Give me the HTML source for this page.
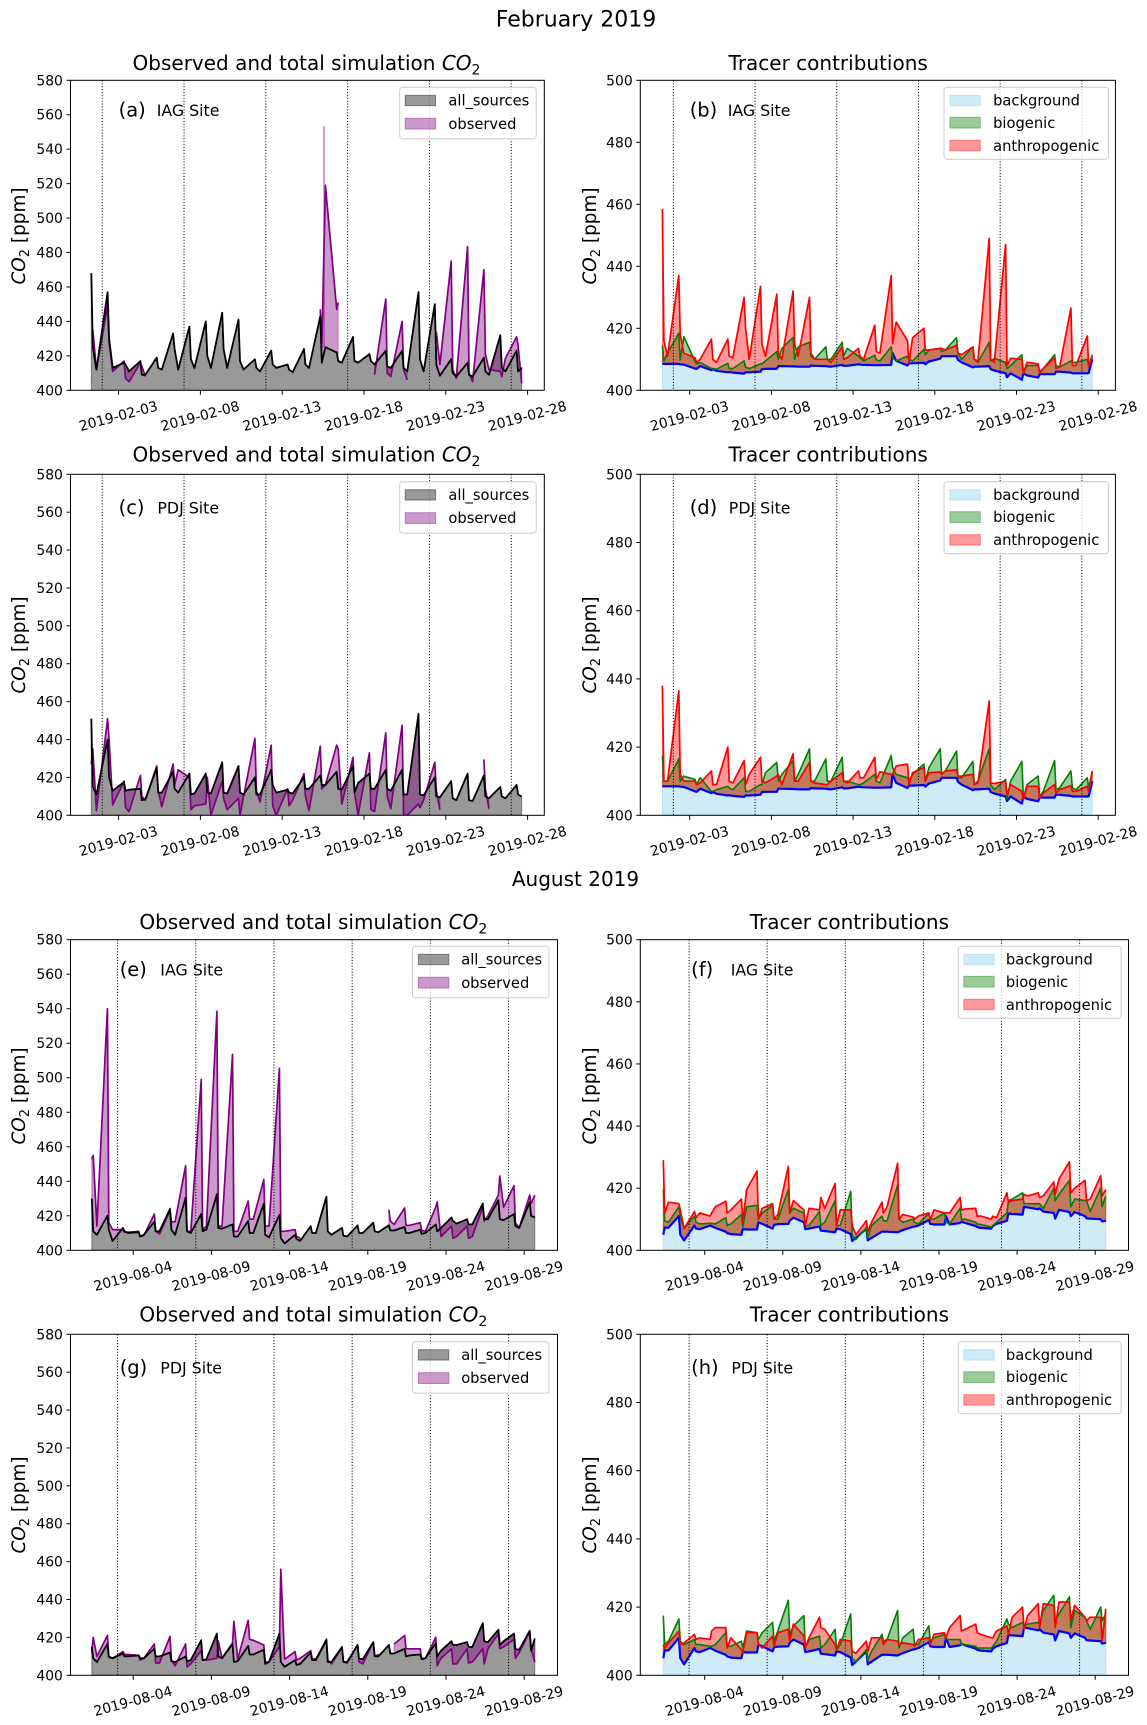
<!DOCTYPE html>
<html lang="en">
<head>
<meta charset="utf-8">
<title>CO2 observed and simulated, February and August 2019</title>
<style>
html,body{margin:0;padding:0;background:#fff;}
svg{display:block;font-family:"DejaVu Sans","Liberation Sans",sans-serif;fill:#000;}
.title{font-size:20px;text-anchor:middle;}
.sup{font-size:22px;text-anchor:middle;}
.ylab{font-size:18.4px;text-anchor:middle;}
.letter{font-size:19.5px;}
.site{font-size:15.8px;}
.lg{font-size:14.7px;}
.box{fill:#fff;fill-opacity:.8;stroke:#ccc;stroke-width:1;}
.ps{fill:#000;fill-opacity:.4;stroke:#000;stroke-opacity:.4;}
.po{fill:#800080;fill-opacity:.4;stroke:#800080;stroke-opacity:.4;}
.pb{fill:#87ceeb;fill-opacity:.4;stroke:#87ceeb;stroke-opacity:.4;}
.pg{fill:#008000;fill-opacity:.4;stroke:#008000;stroke-opacity:.4;}
.pr{fill:#f00;fill-opacity:.4;stroke:#f00;stroke-opacity:.4;}
</style>
</head>
<body>
<svg id="figure" xmlns="http://www.w3.org/2000/svg" width="1147" height="1725" viewBox="0 0 1147 1725">
<rect x="0" y="0" width="1147" height="1725" fill="#fff"/>
<text class="sup" x="576" y="26.5">February 2019</text>
<text class="sup" x="575.5" y="886" style="font-size:20px">August 2019</text>

<g id="panel-a"></g>
<g>
<text class="title" x="306.5" y="70">Observed and total simulation <tspan font-style="italic">CO</tspan><tspan dy="4.5" font-size="14">2</tspan></text>
<text class="ylab" transform="translate(25,236) rotate(-90)"><tspan font-style="italic">CO</tspan><tspan dy="4" font-size="13">2</tspan><tspan dy="-4"> [ppm]</tspan></text>
<text class="letter" x="118.6" y="116.5">(a)</text>
<text class="site" x="156.7" y="116">IAG Site</text>
<g transform="translate(399.7,87.3)">
<rect class="box" width="136.5" height="51.4" rx="3"/>
<rect class="ps" x="5.5" y="8" width="30.4" height="10.4"/>
<text class="lg" x="48.7" y="18.3">all_sources</text>
<rect class="po" x="5.5" y="31" width="30.4" height="10.8"/>
<text class="lg" x="48.7" y="41.5">observed</text>
</g>
</g>

<g id="panel-b"></g>
<g>
<text class="title" x="828.2" y="70">Tracer contributions</text>
<text class="ylab" transform="translate(596,236) rotate(-90)"><tspan font-style="italic">CO</tspan><tspan dy="4" font-size="13">2</tspan><tspan dy="-4"> [ppm]</tspan></text>
<text class="letter" x="689.7" y="116.5">(b)</text>
<text class="site" x="727.7" y="116">IAG Site</text>
<g transform="translate(944,87.3)">
<rect class="box" width="164.4" height="72" rx="3"/>
<rect class="pb" x="5.9" y="8" width="30.4" height="10.4"/>
<text class="lg" x="49.1" y="18.3">background</text>
<rect class="pg" x="5.9" y="30" width="30.4" height="10.8"/>
<text class="lg" x="49.1" y="40.5">biogenic</text>
<rect class="pr" x="5.9" y="53" width="30.4" height="10.4"/>
<text class="lg" x="49.1" y="63.5">anthropogenic</text>
</g>
</g>

<g id="panel-c"></g>
<g>
<text class="title" x="306.5" y="461.7">Observed and total simulation <tspan font-style="italic">CO</tspan><tspan dy="4.5" font-size="14">2</tspan></text>
<text class="ylab" transform="translate(25,645) rotate(-90)"><tspan font-style="italic">CO</tspan><tspan dy="4" font-size="13">2</tspan><tspan dy="-4"> [ppm]</tspan></text>
<text class="letter" x="118.6" y="514">(c)</text>
<text class="site" x="157.4" y="513.5">PDJ Site</text>
<g transform="translate(399.7,481.7)">
<rect class="box" width="136.5" height="51.4" rx="3"/>
<rect class="ps" x="5.5" y="8" width="30.4" height="10.4"/>
<text class="lg" x="48.7" y="18.3">all_sources</text>
<rect class="po" x="5.5" y="31" width="30.4" height="10.8"/>
<text class="lg" x="48.7" y="41.5">observed</text>
</g>
</g>

<g id="panel-d"></g>
<g>
<text class="title" x="828.2" y="461.7">Tracer contributions</text>
<text class="ylab" transform="translate(596,645) rotate(-90)"><tspan font-style="italic">CO</tspan><tspan dy="4" font-size="13">2</tspan><tspan dy="-4"> [ppm]</tspan></text>
<text class="letter" x="689.7" y="514">(d)</text>
<text class="site" x="728.8" y="513.5">PDJ Site</text>
<g transform="translate(944,481.7)">
<rect class="box" width="164.4" height="72" rx="3"/>
<rect class="pb" x="5.9" y="8" width="30.4" height="10.4"/>
<text class="lg" x="49.1" y="18.3">background</text>
<rect class="pg" x="5.9" y="30" width="30.4" height="10.8"/>
<text class="lg" x="49.1" y="40.5">biogenic</text>
<rect class="pr" x="5.9" y="53" width="30.4" height="10.4"/>
<text class="lg" x="49.1" y="63.5">anthropogenic</text>
</g>
</g>

<g id="panel-e"></g>
<g>
<text class="title" x="313.3" y="929">Observed and total simulation <tspan font-style="italic">CO</tspan><tspan dy="4.5" font-size="14">2</tspan></text>
<text class="ylab" transform="translate(25,1096) rotate(-90)"><tspan font-style="italic">CO</tspan><tspan dy="4" font-size="13">2</tspan><tspan dy="-4"> [ppm]</tspan></text>
<text class="letter" x="119.7" y="976">(e)</text>
<text class="site" x="160.3" y="975.5">IAG Site</text>
<g transform="translate(412.5,946.3)">
<rect class="box" width="136.5" height="51.4" rx="3"/>
<rect class="ps" x="5.9" y="8" width="30.4" height="10.4"/>
<text class="lg" x="48.7" y="18.3">all_sources</text>
<rect class="po" x="5.9" y="31" width="30.4" height="10.8"/>
<text class="lg" x="48.7" y="41.5">observed</text>
</g>
</g>

<g id="panel-f"></g>
<g>
<text class="title" x="849.4" y="929">Tracer contributions</text>
<text class="ylab" transform="translate(596,1096) rotate(-90)"><tspan font-style="italic">CO</tspan><tspan dy="4" font-size="13">2</tspan><tspan dy="-4"> [ppm]</tspan></text>
<text class="letter" x="691.1" y="976">(f)</text>
<text class="site" x="730.7" y="975.5">IAG Site</text>
<g transform="translate(958.3,946.3)">
<rect class="box" width="162.9" height="72" rx="3"/>
<rect class="pb" x="5.5" y="8" width="30.4" height="10.4"/>
<text class="lg" x="47.6" y="18.3">background</text>
<rect class="pg" x="5.5" y="30" width="30.4" height="10.8"/>
<text class="lg" x="47.6" y="40.5">biogenic</text>
<rect class="pr" x="5.5" y="53" width="30.4" height="10.4"/>
<text class="lg" x="47.6" y="63.5">anthropogenic</text>
</g>
</g>

<g id="panel-g"></g>
<g>
<text class="title" x="313.3" y="1321.7">Observed and total simulation <tspan font-style="italic">CO</tspan><tspan dy="4.5" font-size="14">2</tspan></text>
<text class="ylab" transform="translate(25,1505) rotate(-90)"><tspan font-style="italic">CO</tspan><tspan dy="4" font-size="13">2</tspan><tspan dy="-4"> [ppm]</tspan></text>
<text class="letter" x="119.7" y="1374">(g)</text>
<text class="site" x="160.3" y="1373.5">PDJ Site</text>
<g transform="translate(412.5,1341.7)">
<rect class="box" width="136.5" height="51.4" rx="3"/>
<rect class="ps" x="5.9" y="8" width="30.4" height="10.4"/>
<text class="lg" x="48.7" y="18.3">all_sources</text>
<rect class="po" x="5.9" y="31" width="30.4" height="10.8"/>
<text class="lg" x="48.7" y="41.5">observed</text>
</g>
</g>

<g id="panel-h"></g>
<g>
<text class="title" x="849.4" y="1321.7">Tracer contributions</text>
<text class="ylab" transform="translate(596,1505) rotate(-90)"><tspan font-style="italic">CO</tspan><tspan dy="4" font-size="13">2</tspan><tspan dy="-4"> [ppm]</tspan></text>
<text class="letter" x="691.1" y="1374">(h)</text>
<text class="site" x="731.4" y="1373.5">PDJ Site</text>
<g transform="translate(958.3,1341.7)">
<rect class="box" width="162.9" height="72" rx="3"/>
<rect class="pb" x="5.5" y="8" width="30.4" height="10.4"/>
<text class="lg" x="47.6" y="18.3">background</text>
<rect class="pg" x="5.5" y="30" width="30.4" height="10.8"/>
<text class="lg" x="47.6" y="40.5">biogenic</text>
<rect class="pr" x="5.5" y="53" width="30.4" height="10.4"/>
<text class="lg" x="47.6" y="63.5">anthropogenic</text>
</g>
</g>
</svg>

<script>
// ---------- categories and tick labels ----------
const febDays = [1,2,3,4,5,6,7,8,9,10,11,12,13,14,15,16,17,18,19,20,21,22,23,24,25,26,27];
const febHours = [0.33,0.42,0.64];
const augDays = [1,2,3,4,5,6,7,8,9,10,11,12,13,14,15,16,17,18,19,20,21,22,23,24,25,26,27,28,29];
const augHours = [0.35,0.44,0.68];
const febTickDays = [3,8,13,18,23,28];
const febTickLabels = ["2019-02-03","2019-02-08","2019-02-13","2019-02-18","2019-02-23","2019-02-28"];
const febMarkerDays = [2,7,12,17,22,27];
const augTickDays = [4,9,14,19,24,29];
const augTickLabels = ["2019-08-04","2019-08-09","2019-08-14","2019-08-19","2019-08-24","2019-08-29"];
const augMarkerDays = [3,8,13,18,23,28];
const observedTicks = [400,420,440,460,480,500,520,540,560,580];
const tracerTicks = [400,420,440,460,480,500];

// ---------- panel (a) IAG February ----------
const aSim = [468,425,412, 457,430,413, 416,415,411, 417,409,409, 419,413,412, 433,424,412, 437,418,413, 440,420,413, 445,424,413,
 441,417,412, 418,413,411, 423,415,413, 415,412,410.5, 424,415,413, 443,416,425, 422,417,416, 431,417,416, 421,417,415,
 423,414,413, 423,413,411, 457,418,411, 450,415,408.5, 418,410,408, 416,409,408, 419,411,409, 432,413,411, 423,411,413];
const aObs = [null,435,412, 449,428,411, 417,407,405, 416,414,408, null,null,null, null,null,null, null,null,null, null,null,null, null,null,null,
 null,null,null, null,null,null, null,null,null, null,null,null, null,null,null, 447,425,519, 447,451,null, null,null,null, null,null,409,
 453,410,408, 440,412,406, null,null,null, null,434,415, 475,412,407, 483.5,410,405, 470,421,412, 411,408,418.5, 431,426,404];
const aSpikeDay = [15.56];
const aSpikeTop = [553.5];
const aSpikeBase = [425];

// ---------- panel (b) IAG February tracers ----------
const febBackground = [408.5,408.5,408.5, 408.5,408.4,408.3, 407,406.9,407.8, 406.5,406.8,406.3, 405.8,405.9,405.7, 405.4,405.8,405.8, 406,406.8,406.9, 406.9,407.8,407.8, 407.7,407.7,407.6,
 407.6,408,407.9, 407.8,407.7,407.6, 408.2,407.9,407.9, 408.4,408.3,408.2, 408.1,408.1,408.1, 408.2,412,409.5, 408,408.7,408.7, 408.9,408.4,409.3, 410.2,411,411,
 411,409.8,409, 407.4,407.6,407.6, 407.8,406.8,406.4, 405.5,404.2,405.5, 403.4,405.5,404.8, 404.1,405.2,405.2, 405.2,406,406, 405.7,405.5,405.5, 405.5,405.6,410];
const bBio = [414.5,409.5,412, 418.4,409.8,417.3, 409.3,408.5,409, 407,407,406.8, 408.7,407,407, 409.5,407.5,407, 408.5,408.5,409.5, 412.5,410,413.5, 417,410,414,
 415.5,411,410, 414,410,410, 415.5,411,413.5, 411,410.5,409.5, 411.3,409.8,409.5, 414,410.5,409.5, 411,410,409.5, 413.2,411.5,413, 413.5,412.5,413,
 417,412,410, 414,410,409, 415.5,409.5,410.3, 409,407,408, 411.5,405.5,408, 408,406,407, 411.5,408,407.5, 409.5,409,409, 410,408,411.5];
const bAnth = [458.5,416,411, 437,418,412, 410.5,409,410, 416.5,410,409, 416.5,411,410.5, 430,420,410, 433.5,415,411, 431,412,410, 432,415,411,
 430,412,410, 410,410,409, 414,410,410.5, 413.5,411,410, 421,412.5,412, 437,415,422, 416,409,417, 420,413,413, 413.5,413.5,413,
 414.5,412,411.5, 414,410,409.5, 449,410,409, 447,408,410.3, 410,405.5,409, 408.5,405.5,407, 410.5,407,407.5, 426.5,408,408, 417.5,407.5,411];

// ---------- panel (c) PDJ February ----------
const cSim = [451,415,411, 440,420,413, 417.5,413,413.5, 414,408,408.5, 425,412,412, 423,414,412, 422,411,411.5, 422,412,411.5, 428,412,411.5,
 426,412,411, 420,411,411, 424,416,412, 413.5,412,411.5, 420,414,414, 421,416,416, 423,414,413.5, 426,412,417, 422,414,414,
 424,414,413, 424,411,411, 453.5,411,410.5, 420,410,409.5, 418,409,408, 422,408,407.5, 421,410,409, 415,410,409, 416,411,410];
const cObs = [427,435,402.5, 451,440,405.5, 418,404,402, 421,410,408, 426,413,404.5, 427,416,424, 420,403,405, 406,420,400, 418,409,403,
 409,400,410, 440.6,413,407, 437,405,400, 414,405,408, 422,410,402.5, 436.5,414,416, 437,435,406, 430.5,412,400, 433,403,402,
 443.5,410,403.5, 447.5,400,400, 406,404,408, 428,413,403, null,null,null, null,null,null, 429.5,414,403.5, null,null,null, null,null,null];

// ---------- panel (d) PDJ February tracers ----------
const dBio = [417.5,410,410, 416.5,410,411.5, 410.5,409,411, 407,407,407.5, 408.5,408,407.5, 411,407,407, 409,409,412.5, 415.5,410,412, 416,410,412,
 419.5,410,410, 416.5,410,410, 417,410,410, 409,409,409.5, 412,410,409.5, 417.5,414,412, 411,410,412, 415,410,414, 419.5,412,413,
 418.8,411,411, 415.8,409,410, 419.5,409,407.5, 410.5,405,410, 415.8,405,409, 411.5,405.5,407, 416,407.5,408, 413,408,407.5, 411,408,413];
const dAnth = [438,410,410, 436.5,412,410, 410,409,409.5, 413,409,409, 420,410,409.5, 416,409,412, 417,410,409.5, 411.5,412,409, 418,410,410,
 415.5,410,409.5, 409,409,410, 412.5,410,409.5, 413,411,411, 417,410.5,412.8, 412,412,414.5, 415,409,412.5, 414,410,412.5, 412.7,412,413,
 413.3,411.5,411.5, 412,409,409.5, 433.5,409.5,409.3, 410,406,409, 407,404.5,408.5, 408.5,405,406.5, 409,406.5,407.5, 408.7,407,407, 408.5,407,413];

// ---------- panel (e) IAG August ----------
const eSim = [430,411,409, 420,412,405.4, 413,411,410, 410.5,408,409, 416.5,411,411, 424,412,409, 430.5,411,410, 421,411,412, 432.5,413,412.5,
 415,408,408, 417,410,410, 427,409,407.5, 420.5,407,404, 409,406.5,405.5, 414,410,410, 431,411,409, 413,408.5,408, 414.5,410,410,
 416,411,410.5, 414.5,411.5,411.5, 413.5,410,410, 412,409.5,410, 415,411,413, 419,417,415.5, 418,415,415, 427,418,418, 429,418,417.5, 421,414,413, 428,420,419];
const eObs = [453,455,414, 540,416,412, 412,410.5,410.5, 411,408,408.5, 421,411,409.5, 423,416.5,416.5, 449,411,411, 499,412,414, 538.5,414,414,
 513.5,411,411, 428.5,418,418, 441,414,414, 505.5,411,411, 412,408,407, null,null,null, null,null,null, null,null,null, null,null,null,
 null,null,null, 423.5,417,415, 424.5,414.5,414.5, 416,411.5,411, 425,428,408, 414,407,408, 414,407,408, 425,417,420, 432,443,425, 437.5,416,413, 432,427,432];

// ---------- panel (f) IAG August tracers ----------
const augBackground = [405,407.3,407.3, 411,405,403.2, 408,407,406.8, 408,407.8,407.2, 406,405.5,405.2, 405,406.8,406.7, 406.7,409,408.5, 407,408.2,408.4, 408.5,409.5,410.5,
 409,406.8,407, 407.7,406.3,406.2, 405.8,407,406.8, 405.2,403,404, 407,403.2,404, 406,406,406, 405.8,406,406.5, 407.6,407.6,408, 409.7,408.5,408.3,
 408.3,411,408.3, 408.8,409.2,408.8, 407.8,407.5,407.2, 407,407.8,408.5, 409.5,411.8,411.7, 411.5,414,413.8, 413.2,413.5,412.5, 412,410.2,413, 412.3,411,412.3, 411,410.3,410.2, 410,409.3,409.5];
const fBio = [419.5,409.5,409, 414,411,407, 411,409,408.5, 408.7,408.7,408.5, 410.5,408,408.5, 411.5,407.5,414, 414.5,410,412, 414.5,410,410, 419.5,412,413.5,
 412,408,408, 412.5,408,409, 416,408,408, 419,405,403.5, 407.3,404,408, 411,409.5,409.5, 421,410,409, 410,409,408.5, 412,410,410,
 412,409,408.5, 413.5,410,410, 409,408.5,408.3, 407.5,408,409, 412,416,416.5, 418.5,415,415, 415,415,413.5, 420,416,418, 422.5,414,416.5, 416,416,412.5, 420,414,417.5];
const fAnth = [429,412,415.5, 415,413,407, 412.5,410.5,412, 411,412,414, 415.8,412,413, 416.5,409,419.5, 425.5,410,413.5, 415,410,411.5, 427,412,416,
 413,408,413.5, 413,417,413.5, 421.5,408,413, 413,408,405, 409.5,406,409, 415.5,412,414, 428,410,411.5, 410.7,410,411, 412,409.7,413,
 412,412,412, 417,413,413.3, 413.5,411,411, 410,411,410.5, 418.5,415.5,416, 416.5,418,417.5, 418.5,417,417.5, 422,418,423, 428.5,418.5,420, 422.5,416,416.5, 424,417.5,419.5];

// ---------- panel (g) PDJ August ----------
const gSim = [415,409,407, 416.5,410,409, 411.5,410,410, 410.5,409,409, 414,410,410, 412,407.5,407, 410,407.5,408, 418.5,408,408.5, 422,410,409,
 416.5,407,407.5, 415.5,411,411, 413.5,406,407, 422,407,404.5, 408,405.5,406, 412,408,408, 418.5,407,407, 415,407,407, 416,409,408.5,
 417.5,410,410, 416,411.5,411.5, 414,410,410.5, 411,408.5,409, 417,410,413, 418,416,416, 417.5,415,415, 427.5,418,417.5, 424,416,418, 422,414,413.5, 423.5,413,419.5];
const gObs = [412,420,410, 421,409.5,409, 412.5,411,411, 410.5,408,409, 416.5,406.5,406.5, 420.5,408,405, 416.5,404.5,406, 413,408,408, 409,418,409,
 417,428.5,408.5, 429,419,418.5, 416,407,407, 415,456,408.5, 412.5,408,409, 413,409,408.5, 419,408,406, 414.5,407,406.5, 416,407,406,
 417.5,410,411, null,null,416.5, 421,414,414, 414,409,409, 420,405,409, 414,406,406, 414,406.5,407, 414,406,414, 422,414,415, 419,409,412, 423,414,407];

// ---------- panel (h) PDJ August tracers ----------
const hBio = [417.5,409,410, 416.5,410,409, 410.5,409,409, 408.5,408.5,409, 412.5,408.5,408.5, 410,408,413, 412.5,410.5,412.5, 415.5,410,413, 422,412,414.5,
 417.5,408,410.5, 411.5,408,409, 413.5,407.5,409, 418,405,404, 407.5,404.5,407, 412,410,410.5, 419,408,411, 413.5,409,409, 414.5,410,411,
 412,410.5,410.5, 410.5,409,409, 408.5,408,408, 408,408.5,410, 416.5,415,414, 415.5,414.5,415, 415.5,415,419, 423.5,416,418, 423,414,419, 417,416,413.5, 420,416,418];
const hAnth = [409,408,409.5, 413,409,409.5, 412,410.5,411, 410.5,413,414, 414,408,411, 407.5,406.5,412.5, 412.5,409,408, 411.5,408.5,412.5, 413.5,410,415,
 411.5,408,411, 417,414,413.5, 409,407.5,410.5, 410,407,406.5, 410,407,411, 411,409,410.5, 410,409,409.5, 409,408.5,410.5, 411,409,412,
 412.5,411,414, 417.5,413,413.5, 415,412.5,412, 411,411,413, 414.5,412,417, 420,413.5,417.5, 421,414,421, 420.5,414,421.5, 421.5,416,420.5, 417,416,417, 417,410,419.5];

// ---------- drawing ----------
const SVG_NS = "http://www.w3.org/2000/svg";

function makeTimes(days, hours) {
  const out = [];
  days.forEach(function (d) { hours.forEach(function (h) { out.push(d + h); }); });
  return out;
}
const febTimes = makeTimes(febDays, febHours);
const augTimes = makeTimes(augDays, augHours);

function shape(parent, tag, attrs) {
  const el = document.createElementNS(SVG_NS, tag);
  Object.keys(attrs).forEach(function (k) { el.setAttribute(k, attrs[k]); });
  parent.appendChild(el);
  return el;
}

function xAxisFn(p) {
  return function (day) { return p.tickPx + (day - p.tickDays[0]) * p.dayPx; };
}
function yAxisFn(p) {
  return function (v) { return p.bottom - (v - p.yMin) / (p.yMax - p.yMin) * (p.bottom - p.top); };
}

function lineSegments(times, vals, sx, sy) {
  const segs = [];
  let cur = [];
  vals.forEach(function (v, i) {
    if (v === null) { if (cur.length) { segs.push(cur); } cur = []; }
    else { cur.push(sx(times[i]).toFixed(1) + "," + sy(v).toFixed(1)); }
  });
  if (cur.length) { segs.push(cur); }
  return segs;
}

function bandSegments(times, upper, lower, sx, sy) {
  const segs = [];
  let top = [], bot = [];
  function flush() {
    if (top.length) { segs.push(top.concat(bot.reverse())); }
    top = []; bot = [];
  }
  upper.forEach(function (v, i) {
    const w = lower === null ? null : lower[i];
    if (v === null || (lower !== null && w === null)) { flush(); return; }
    top.push(sx(times[i]).toFixed(1) + "," + sy(v).toFixed(1));
    bot.push(sx(times[i]).toFixed(1) + "," + (lower === null ? sy(400) : sy(w)).toFixed(1));
  });
  flush();
  return segs;
}

function drawBand(g, times, upper, lower, color, sx, sy) {
  bandSegments(times, upper, lower, sx, sy).forEach(function (pts) {
    const poly = shape(g, "polygon", {points: pts.join(" "), fill: color, "fill-opacity": 0.4, stroke: color, "stroke-opacity": 0.4, "stroke-width": 1});
    
    
  });
}

function drawLine(g, times, vals, color, width, sx, sy) {
  lineSegments(times, vals, sx, sy).forEach(function (pts) {
    const line = shape(g, "polyline", {points: pts.join(" "), fill: "none", stroke: color, "stroke-width": width, "stroke-linejoin": "round"});
    
    
  });
}

const panels = [
  {id:"a", kind:"obs", times:febTimes, sim:aSim, obs:aObs, spikeDay:aSpikeDay, spikeTop:aSpikeTop, spikeBase:aSpikeBase, left:70.5, right:544.3, top:80.3, bottom:390.3, tickPx:118.6, dayPx:16.36, tickDays:febTickDays, tickLabels:febTickLabels, markers:febMarkerDays},
  {id:"b", kind:"tracer", times:febTimes, bg:febBackground, bio:bBio, anth:bAnth, left:640.3, right:1115.4, top:80.3, bottom:390.3, tickPx:689.7, dayPx:16.34, tickDays:febTickDays, tickLabels:febTickLabels, markers:febMarkerDays},
  {id:"c", kind:"obs", times:febTimes, sim:cSim, obs:cObs, left:70.5, right:544.3, top:474.3, bottom:815.3, tickPx:118.6, dayPx:16.36, tickDays:febTickDays, tickLabels:febTickLabels, markers:febMarkerDays},
  {id:"d", kind:"tracer", times:febTimes, bg:febBackground, bio:dBio, anth:dAnth, left:640.3, right:1115.4, top:474.3, bottom:815.3, tickPx:689.7, dayPx:16.34, tickDays:febTickDays, tickLabels:febTickLabels, markers:febMarkerDays},
  {id:"e", kind:"obs", times:augTimes, sim:eSim, obs:eObs, left:70.5, right:557.5, top:939.7, bottom:1250.3, tickPx:133.2, dayPx:15.64, tickDays:augTickDays, tickLabels:augTickLabels, markers:augMarkerDays},
  {id:"f", kind:"tracer", times:augTimes, bg:augBackground, bio:fBio, anth:fAnth, left:640.3, right:1128.5, top:939.7, bottom:1250.3, tickPx:704.7, dayPx:15.62, tickDays:augTickDays, tickLabels:augTickLabels, markers:augMarkerDays},
  {id:"g", kind:"obs", times:augTimes, sim:gSim, obs:gObs, left:70.5, right:557.5, top:1334.3, bottom:1675.3, tickPx:133.2, dayPx:15.64, tickDays:augTickDays, tickLabels:augTickLabels, markers:augMarkerDays},
  {id:"h", kind:"tracer", times:augTimes, bg:augBackground, bio:hBio, anth:hAnth, left:640.3, right:1128.5, top:1334.3, bottom:1675.3, tickPx:704.7, dayPx:15.62, tickDays:augTickDays, tickLabels:augTickLabels, markers:augMarkerDays}
];

const defs = shape(document.getElementById("figure"), "defs", {});

panels.forEach(function (p) {
  const root = document.getElementById("panel-" + p.id);
  p.yMin = 400;
  p.yMax = p.kind === "obs" ? 580 : 500;
  const sx = xAxisFn(p), sy = yAxisFn(p);

  const clip = shape(defs, "clipPath", {id: "clip-" + p.id});
  shape(clip, "rect", {x: p.left, y: p.top, width: p.right - p.left, height: p.bottom - p.top});

  const marks = shape(root, "g", {"clip-path": "url(#clip-" + p.id + ")"});
  
  

  if (p.kind === "obs") {
    drawBand(marks, p.times, p.sim, null, "#000", sx, sy);
    drawBand(marks, p.times, p.obs, p.sim, "#800080", sx, sy);
    if (p.spikeDay) {
      p.spikeDay.forEach(function (d, i) {
        const spike = shape(marks, "line", {x1: sx(d), x2: sx(d), y1: sy(p.spikeBase[i]), y2: sy(p.spikeTop[i]), stroke: "#800080", "stroke-opacity": 0.45, "stroke-width": 1.6});
        
        
      });
    }
    drawLine(marks, p.times, p.obs, "#800080", 1.7, sx, sy);
    drawLine(marks, p.times, p.sim, "#000", 1.8, sx, sy);
  } else {
    drawBand(marks, p.times, p.bg, null, "#87ceeb", sx, sy);
    drawBand(marks, p.times, p.bio, p.bg, "#008000", sx, sy);
    drawBand(marks, p.times, p.anth, p.bg, "#ff0000", sx, sy);
    drawLine(marks, p.times, p.bg, "#0000ff", 2.2, sx, sy);
    drawLine(marks, p.times, p.bio, "#008000", 1.6, sx, sy);
    drawLine(marks, p.times, p.anth, "#ff0000", 1.7, sx, sy);
  }

  p.markers.forEach(function (d) {
    const v = shape(marks, "line", {x1: sx(d), x2: sx(d), y1: p.top, y2: p.bottom, stroke: "#000", "stroke-width": 1, "stroke-dasharray": "1.1,1.8"});
    
    
  });

  const frame = shape(root, "rect", {x: p.left, y: p.top, width: p.right - p.left, height: p.bottom - p.top, fill: "none", stroke: "#000", "stroke-width": 1});
  
  

  const yTicks = p.kind === "obs" ? observedTicks : tracerTicks;
  yTicks.forEach(function (v) {
    const tick = shape(root, "line", {x1: p.left - 4, x2: p.left, y1: sy(v), y2: sy(v), stroke: "#000", "stroke-width": 1});
    
    
    const label = shape(root, "text", {x: p.left - 7.6, y: sy(v) + 5, "text-anchor": "end", "font-size": 13.9});
    
    
    label.textContent = String(v);
  });

  p.tickDays.forEach(function (d, i) {
    const tick = shape(root, "line", {x1: sx(d), x2: sx(d), y1: p.bottom, y2: p.bottom + 4.5, stroke: "#000", "stroke-width": 1});
    
    
    const cx = sx(d) - 0.3, cy = p.bottom + 25.5;
    const label = shape(root, "text", {x: cx, y: cy + 5, "text-anchor": "middle", "font-size": 13.9, transform: "rotate(-15 " + cx + " " + cy + ")"});
    
    
    label.textContent = p.tickLabels[i];
  });
});
</script>
</body>
</html>
